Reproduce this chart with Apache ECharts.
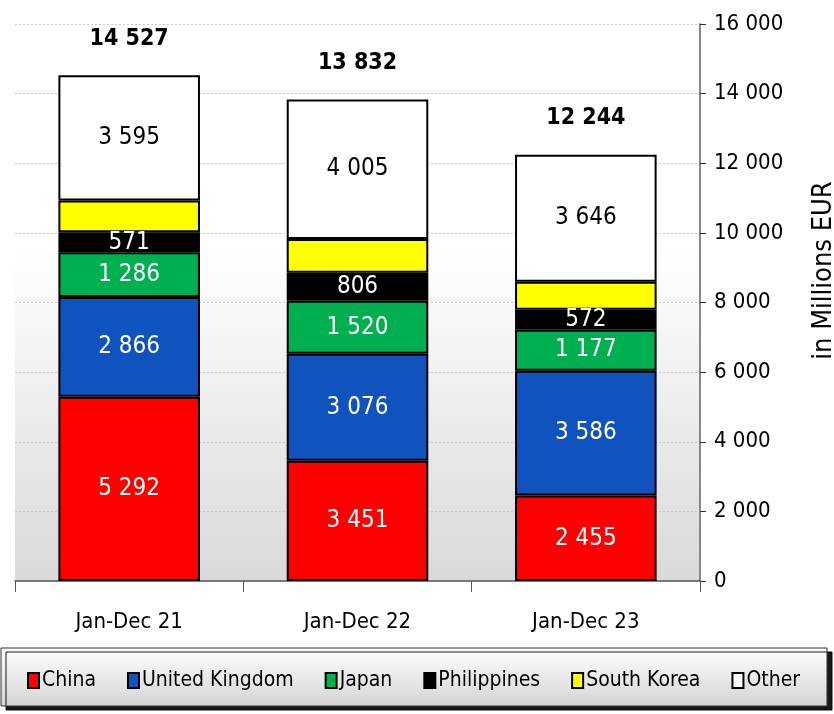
<!DOCTYPE html>
<html>
<head>
<meta charset="utf-8">
<script src="https://cdn.jsdelivr.net/npm/echarts@6/dist/echarts.min.js"></script>
<style>
  html, body { margin: 0; padding: 0; background: #fff; }
  #main { width: 834px; height: 714px; }
</style>
</head>
<body>
<div id="main"></div>
<script>
const categories = ["Jan-Dec 21", "Jan-Dec 22", "Jan-Dec 23"];
const china = [5292, 3451, 2455];
const unitedKingdom = [2866, 3076, 3586];
const japan = [1286, 1520, 1177];
const philippines = [571, 806, 572];
const southKorea = [917, 974, 808];
const other = [3595, 4005, 3646];
const totals = [14527, 13832, 12244];

const FONT = "'Liberation Sans Narrow', 'DejaVu Sans Condensed', 'Open Sans', sans-serif";
const fmt = (v) => String(v).replace(/\B(?=(\d{3})+(?!\d))/g, " ");

const chart = echarts.init(document.getElementById("main"));

const makeSeries = (name, data, color, labelColor, showLabel) => ({
  name,
  type: "bar",
  stack: "total",
  data,
  barWidth: "62%",
  itemStyle: { color, borderColor: "#000", borderWidth: 2 },
  label: {
    show: showLabel,
    position: "inside",
    color: labelColor,
    fontFamily: FONT,
    fontSize: 24,
    formatter: (p) => fmt(p.value),
  },
  z: 3,
});

chart.setOption({
  animation: false,
  textStyle: { fontFamily: FONT },
  grid: {
    left: 15,
    right: 134,
    top: 24,
    bottom: 133,
    outerBoundsMode: "none",
    show: true,
    borderWidth: 0,
    backgroundColor: {
      type: "linear", x: 0, y: 0, x2: 0, y2: 1,
      colorStops: [
        { offset: 0, color: "#ffffff" },
        { offset: 0.4, color: "#ffffff" },
        { offset: 1, color: "#d9d9d9" },
      ],
    },
  },
  graphic: [
    {
      type: "rect",
      shape: { x: 1, y: 648, width: 826, height: 58 },
      style: {
        fill: {
          type: "linear", x: 0, y: 0, x2: 0, y2: 1,
          colorStops: [
            { offset: 0, color: "#ffffff" },
            { offset: 1, color: "#d4d4d4" },
          ],
        },
        stroke: "#333",
        lineWidth: 1,
        shadowColor: "rgba(0,0,0,0.9)",
        shadowOffsetX: 5,
        shadowOffsetY: 4,
        shadowBlur: 0,
      },
      z: 0,
    },
  ],
  legend: {
    data: ["China", "United Kingdom", "Japan", "Philippines", "South Korea", "Other"],
    left: 22,
    top: 665,
    width: 810,
    icon: "rect",
    itemWidth: 11,
    itemHeight: 15,
    itemGap: 31,
    textStyle: { fontFamily: FONT, fontSize: 21, color: "#000", padding: [0, 0, 0, -2] },
    z: 5,
  },
  xAxis: {
    type: "category",
    data: categories,
    axisLine: { lineStyle: { color: "#555", width: 1.5 } },
    axisTick: { show: true, length: 11, lineStyle: { color: "#555" } },
    axisLabel: { color: "#000", fontSize: 22, fontFamily: FONT, margin: 30 },
  },
  yAxis: {
    type: "value",
    position: "right",
    min: 0,
    max: 16000,
    interval: 2000,
    name: "in Millions EUR",
    nameLocation: "middle",
    nameRotate: 90,
    nameGap: 110,
    nameTextStyle: { fontSize: 27, color: "#000", fontFamily: FONT, padding: [0, 0, 0, 64] },
    axisLine: { show: true, lineStyle: { color: "#888", width: 2 } },
    axisTick: { show: true, length: 6, lineStyle: { color: "#333" } },
    axisLabel: {
      color: "#000",
      fontSize: 22,
      fontFamily: FONT,
      margin: 14,
      formatter: (v) => fmt(v),
    },
    splitLine: { show: true, lineStyle: { color: "#c8c8c8", type: [2, 2], width: 1 } },
  },
  series: [
    makeSeries("China", china, "#ff0000", "#fff", true),
    makeSeries("United Kingdom", unitedKingdom, "#1052be", "#fff", true),
    makeSeries("Japan", japan, "#00b050", "#fff", true),
    makeSeries("Philippines", philippines, "#000000", "#fff", true),
    makeSeries("South Korea", southKorea, "#ffff00", "#000", false),
    makeSeries("Other", other, "#ffffff", "#000", true),
    {
      name: "Total",
      type: "bar",
      stack: "total",
      data: [0, 0, 0],
      itemStyle: { color: "transparent", borderWidth: 0 },
      label: {
        show: true,
        position: "top",
        distance: 25,
        color: "#000",
        fontWeight: "bold",
        fontSize: 23,
        fontFamily: FONT,
        formatter: (p) => fmt(totals[p.dataIndex]),
      },
      z: 4,
    },
  ],
});
</script>
</body>
</html>
